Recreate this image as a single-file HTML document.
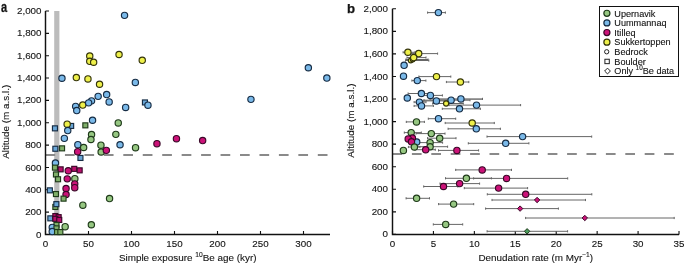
<!DOCTYPE html>
<html><head><meta charset="utf-8"><title>Figure</title><style>
html,body{margin:0;padding:0;background:#fff;width:685px;height:263px;overflow:hidden}
svg{display:block;will-change:transform}
text{font-family:"Liberation Sans",sans-serif;fill:#141414;stroke:#141414;stroke-width:0.12px}
.tk{font-size:9.8px}
</style></head><body>
<svg width="685" height="263" viewBox="0 0 685 263">
<rect x="54.2" y="11" width="5.2" height="223.5" fill="#bcbcbc"/>
<line x1="45.5" y1="155" x2="330" y2="155" stroke="#8a8a8a" stroke-width="1.8" stroke-dasharray="9.7 9.75"/>
<path d="M45.5 11V234.5H330" fill="none" stroke="#111" stroke-width="1.45"/>
<path d="M45.5 234.50h3.5M45.5 212.15h3.5M45.5 189.80h3.5M45.5 167.45h3.5M45.5 145.10h3.5M45.5 122.75h3.5M45.5 100.40h3.5M45.5 78.05h3.5M45.5 55.70h3.5M45.5 33.35h3.5M45.5 11.00h3.5M45.50 234.5v-3.5M88.50 234.5v-3.5M131.50 234.5v-3.5M174.50 234.5v-3.5M217.50 234.5v-3.5M260.50 234.5v-3.5M303.50 234.5v-3.5" fill="none" stroke="#111" stroke-width="1.1"/>
<g class="tk" text-anchor="end">
<text x="41.5" y="237.55">0</text><text x="41.5" y="215.20">200</text><text x="41.5" y="192.85">400</text><text x="41.5" y="170.50">600</text><text x="41.5" y="148.15">800</text><text x="41.5" y="125.80">1,000</text><text x="41.5" y="103.45">1,200</text><text x="41.5" y="81.10">1,400</text><text x="41.5" y="58.75">1,600</text><text x="41.5" y="36.40">1,800</text><text x="41.5" y="14.05">2,000</text>
</g>
<g class="tk" text-anchor="middle">
<text x="45.50" y="247">0</text><text x="88.50" y="247">50</text><text x="131.50" y="247">100</text><text x="174.50" y="247">150</text><text x="217.50" y="247">200</text><text x="260.50" y="247">250</text><text x="303.50" y="247">300</text>
</g>
<text x="187.7" y="260.5" text-anchor="middle" font-size="9.9">Simple exposure <tspan font-size="6.7" dy="-3.5">10</tspan><tspan dy="3.5">Be age (kyr)</tspan></text>
<text transform="translate(8.5,121.8) rotate(-90)" text-anchor="middle" font-size="9.9">Altitude (m a.s.l.)</text>
<text transform="translate(1.1,11.9) scale(0.82,1.08)" font-size="13.5" font-weight="bold" style="stroke-width:0.25px">a</text>
<g stroke="#141414" stroke-width="1.15">
<circle cx="89.75" cy="55.95" r="3.15" fill="#eef04a" stroke="#34340a"/><circle cx="119.05" cy="54.55" r="3.15" fill="#eef04a" stroke="#34340a"/><circle cx="142.25" cy="60.35" r="3.15" fill="#eef04a" stroke="#34340a"/><circle cx="89.75" cy="61.35" r="3.15" fill="#eef04a" stroke="#34340a"/><circle cx="93.65" cy="62.25" r="3.15" fill="#eef04a" stroke="#34340a"/><circle cx="76.35" cy="77.55" r="3.15" fill="#eef04a" stroke="#34340a"/><circle cx="87.95" cy="78.95" r="3.15" fill="#eef04a" stroke="#34340a"/><circle cx="99.55" cy="84.25" r="3.15" fill="#eef04a" stroke="#34340a"/><circle cx="82.75" cy="105.05" r="3.15" fill="#eef04a" stroke="#34340a"/><circle cx="124.55" cy="15.35" r="3.15" fill="#7ab9e9" stroke="#162c44"/><circle cx="61.95" cy="78.25" r="3.15" fill="#7ab9e9" stroke="#162c44"/><circle cx="98.15" cy="96.35" r="3.15" fill="#7ab9e9" stroke="#162c44"/><circle cx="106.65" cy="94.55" r="3.15" fill="#7ab9e9" stroke="#162c44"/><circle cx="91.55" cy="100.85" r="3.15" fill="#7ab9e9" stroke="#162c44"/><circle cx="88.65" cy="102.85" r="3.15" fill="#7ab9e9" stroke="#162c44"/><circle cx="109.15" cy="101.95" r="3.15" fill="#7ab9e9" stroke="#162c44"/><circle cx="75.65" cy="106.35" r="3.15" fill="#7ab9e9" stroke="#162c44"/><circle cx="76.75" cy="110.55" r="3.15" fill="#7ab9e9" stroke="#162c44"/><circle cx="125.65" cy="107.45" r="3.15" fill="#7ab9e9" stroke="#162c44"/><rect x="142.45" y="99.95" width="5.00" height="5.00" fill="#6aa6d6" stroke="#162c44"/><circle cx="147.95" cy="105.15" r="3.15" fill="#7ab9e9" stroke="#162c44"/><circle cx="135.35" cy="82.45" r="3.15" fill="#7ab9e9" stroke="#162c44"/><circle cx="250.95" cy="99.35" r="3.15" fill="#7ab9e9" stroke="#162c44"/><circle cx="308.35" cy="67.75" r="3.15" fill="#7ab9e9" stroke="#162c44"/><circle cx="326.85" cy="78.05" r="3.15" fill="#7ab9e9" stroke="#162c44"/><circle cx="92.55" cy="120.25" r="3.15" fill="#7ab9e9" stroke="#162c44"/><rect x="68.65" y="123.45" width="5.00" height="5.00" fill="#6aa6d6" stroke="#162c44"/><circle cx="67.15" cy="124.15" r="3.15" fill="#eef04a" stroke="#34340a"/><circle cx="67.75" cy="130.55" r="3.15" fill="#7ab9e9" stroke="#162c44"/><circle cx="64.35" cy="138.35" r="3.15" fill="#7ab9e9" stroke="#162c44"/><circle cx="77.85" cy="144.65" r="3.15" fill="#7ab9e9" stroke="#162c44"/><circle cx="120.05" cy="144.75" r="3.15" fill="#7ab9e9" stroke="#162c44"/><rect x="52.45" y="125.85" width="5.00" height="5.00" fill="#6aa6d6" stroke="#162c44"/><rect x="82.85" y="122.85" width="5.00" height="5.00" fill="#80b06a" stroke="#1f3a1a"/><rect x="52.85" y="146.25" width="5.00" height="5.00" fill="#6aa6d6" stroke="#162c44"/><rect x="59.55" y="145.85" width="5.00" height="5.00" fill="#80b06a" stroke="#1f3a1a"/><rect x="77.95" y="155.45" width="5.00" height="5.00" fill="#6aa6d6" stroke="#162c44"/><circle cx="118.25" cy="122.95" r="3.15" fill="#96c782" stroke="#1f3a1a"/><circle cx="91.55" cy="134.45" r="3.15" fill="#96c782" stroke="#1f3a1a"/><circle cx="115.85" cy="134.35" r="3.15" fill="#96c782" stroke="#1f3a1a"/><circle cx="90.95" cy="139.45" r="3.15" fill="#96c782" stroke="#1f3a1a"/><circle cx="100.95" cy="145.15" r="3.15" fill="#96c782" stroke="#1f3a1a"/><circle cx="83.65" cy="147.45" r="3.15" fill="#96c782" stroke="#1f3a1a"/><circle cx="101.15" cy="151.95" r="3.15" fill="#96c782" stroke="#1f3a1a"/><circle cx="135.55" cy="147.65" r="3.15" fill="#96c782" stroke="#1f3a1a"/><circle cx="77.65" cy="151.65" r="3.15" fill="#cc1278" stroke="#3a0828"/><circle cx="106.35" cy="150.35" r="3.15" fill="#cc1278" stroke="#3a0828"/><circle cx="156.95" cy="143.65" r="3.15" fill="#cc1278" stroke="#3a0828"/><circle cx="176.45" cy="138.65" r="3.15" fill="#cc1278" stroke="#3a0828"/><circle cx="202.65" cy="140.55" r="3.15" fill="#cc1278" stroke="#3a0828"/><circle cx="55.45" cy="163.05" r="3.15" fill="#7ab9e9" stroke="#162c44"/><rect x="52.45" y="165.15" width="5.00" height="5.00" fill="#80b06a" stroke="#1f3a1a"/><rect x="58.15" y="166.85" width="5.00" height="5.00" fill="#b8106c" stroke="#3a0828"/><circle cx="68.25" cy="170.75" r="3.15" fill="#cc1278" stroke="#3a0828"/><rect x="71.75" y="166.35" width="5.00" height="5.00" fill="#b8106c" stroke="#3a0828"/><rect x="77.15" y="167.85" width="5.00" height="5.00" fill="#b8106c" stroke="#3a0828"/><rect x="53.45" y="171.95" width="5.00" height="5.00" fill="#80b06a" stroke="#1f3a1a"/><rect x="55.55" y="176.75" width="5.00" height="5.00" fill="#80b06a" stroke="#1f3a1a"/><circle cx="67.25" cy="178.85" r="3.15" fill="#cc1278" stroke="#3a0828"/><circle cx="74.85" cy="178.65" r="3.15" fill="#96c782" stroke="#1f3a1a"/><circle cx="74.75" cy="183.85" r="3.15" fill="#cc1278" stroke="#3a0828"/><circle cx="74.75" cy="187.65" r="3.15" fill="#cc1278" stroke="#3a0828"/><circle cx="66.05" cy="188.55" r="3.15" fill="#cc1278" stroke="#3a0828"/><circle cx="66.05" cy="194.45" r="3.15" fill="#cc1278" stroke="#3a0828"/><rect x="47.35" y="187.85" width="5.00" height="5.00" fill="#6aa6d6" stroke="#162c44"/><rect x="53.45" y="191.55" width="5.00" height="5.00" fill="#80b06a" stroke="#1f3a1a"/><rect x="61.05" y="196.15" width="5.00" height="5.00" fill="#80b06a" stroke="#1f3a1a"/><circle cx="109.55" cy="198.55" r="3.15" fill="#96c782" stroke="#1f3a1a"/><rect x="52.85" y="204.45" width="5.00" height="5.00" fill="#80b06a" stroke="#1f3a1a"/><rect x="53.85" y="201.65" width="5.00" height="5.00" fill="#6aa6d6" stroke="#162c44"/><circle cx="82.85" cy="205.15" r="3.15" fill="#96c782" stroke="#1f3a1a"/><rect x="47.85" y="215.85" width="5.00" height="5.00" fill="#6aa6d6" stroke="#162c44"/><rect x="52.85" y="213.55" width="5.00" height="5.00" fill="#b8106c" stroke="#3a0828"/><rect x="56.15" y="214.65" width="5.00" height="5.00" fill="#b8106c" stroke="#3a0828"/><rect x="52.85" y="216.35" width="5.00" height="5.00" fill="#b8106c" stroke="#3a0828"/><rect x="56.75" y="217.45" width="5.00" height="5.00" fill="#b8106c" stroke="#3a0828"/><rect x="53.95" y="222.35" width="5.00" height="5.00" fill="#80b06a" stroke="#1f3a1a"/><circle cx="91.35" cy="224.75" r="3.15" fill="#96c782" stroke="#1f3a1a"/><circle cx="52.25" cy="227.35" r="3.15" fill="#7ab9e9" stroke="#162c44"/><rect x="53.95" y="225.85" width="5.00" height="5.00" fill="#80b06a" stroke="#1f3a1a"/><circle cx="65.15" cy="226.65" r="3.15" fill="#96c782" stroke="#1f3a1a"/><circle cx="52.25" cy="231.55" r="3.15" fill="#7ab9e9" stroke="#162c44"/><rect x="54.55" y="229.55" width="5.00" height="5.00" fill="#80b06a" stroke="#1f3a1a"/><rect x="57.85" y="229.55" width="5.00" height="5.00" fill="#80b06a" stroke="#1f3a1a"/>
</g>
<line x1="392.5" y1="154" x2="680" y2="154" stroke="#8a8a8a" stroke-width="1.8" stroke-dasharray="9.7 9.7"/>
<path d="M392.5 8.8V234.4H679.1" fill="none" stroke="#111" stroke-width="1.45"/>
<path d="M392.5 234.40h3.5M392.5 211.84h3.5M392.5 189.28h3.5M392.5 166.72h3.5M392.5 144.16h3.5M392.5 121.60h3.5M392.5 99.04h3.5M392.5 76.48h3.5M392.5 53.92h3.5M392.5 31.36h3.5M392.5 8.80h3.5M392.50 234.4v-3.5M433.43 234.4v-3.5M474.36 234.4v-3.5M515.29 234.4v-3.5M556.22 234.4v-3.5M597.15 234.4v-3.5M638.08 234.4v-3.5M679.01 234.4v-3.5" fill="none" stroke="#111" stroke-width="1.1"/>
<g class="tk" text-anchor="end">
<text x="388" y="237.45">0</text><text x="388" y="214.89">200</text><text x="388" y="192.33">400</text><text x="388" y="169.77">600</text><text x="388" y="147.21">800</text><text x="388" y="124.65">1,000</text><text x="388" y="102.09">1,200</text><text x="388" y="79.53">1,400</text><text x="388" y="56.97">1,600</text><text x="388" y="34.41">1,800</text><text x="388" y="11.85">2,000</text>
</g>
<g class="tk" text-anchor="middle">
<text x="392.50" y="247">0</text><text x="433.43" y="247">5</text><text x="474.36" y="247">10</text><text x="515.29" y="247">15</text><text x="556.22" y="247">20</text><text x="597.15" y="247">25</text><text x="638.08" y="247">30</text><text x="679.01" y="247">35</text>
</g>
<text x="535.8" y="260.5" text-anchor="middle" font-size="9.9">Denudation rate (m Myr<tspan font-size="6.7" dy="-3.5">−1</tspan><tspan dy="3.5">)</tspan></text>
<text transform="translate(354.4,120.6) rotate(-90)" text-anchor="middle" font-size="9.9">Altitude (m a.s.l.)</text>
<text x="347.1" y="13.4" font-size="13.2" font-weight="bold" style="stroke-width:0.25px">b</text>
<path d="M427.6 12.6H445.4M427.6 11.50v2.2M445.4 11.50v2.2M405.5 60.5H428.8M405.5 59.40v2.2M428.8 59.40v2.2M406.0 59.5H428.0M406.0 58.40v2.2M428.0 58.40v2.2M403.1 52.3H415.0M403.1 51.20v2.2M415.0 51.20v2.2M410.0 53.6H437.6M410.0 52.50v2.2M437.6 52.50v2.2M407.0 57.6H426.0M407.0 56.50v2.2M426.0 56.50v2.2M418.9 76.6H450.8M418.9 75.50v2.2M450.8 75.50v2.2M411.9 80.6H425.9M411.9 79.50v2.2M425.9 79.50v2.2M446.4 82.0H468.8M446.4 80.90v2.2M468.8 80.90v2.2M408.1 93.5H430.0M408.1 92.40v2.2M430.0 92.40v2.2M420.0 95.4H442.4M420.0 94.30v2.2M442.4 94.30v2.2M430.0 98.9H482.5M430.0 97.80v2.2M482.5 97.80v2.2M424.0 100.2H470.0M424.0 99.10v2.2M470.0 99.10v2.2M423.7 100.9H452.0M423.7 99.80v2.2M452.0 99.80v2.2M414.1 102.1H426.0M414.1 101.00v2.2M426.0 101.00v2.2M432.6 103.5H463.3M432.6 102.40v2.2M463.3 102.40v2.2M449.0 105.1H520.6M449.0 104.00v2.2M520.6 104.00v2.2M414.1 105.9H433.4M414.1 104.80v2.2M433.4 104.80v2.2M442.3 108.8H480.4M442.3 107.70v2.2M480.4 107.70v2.2M428.3 118.7H455.7M428.3 117.60v2.2M455.7 117.60v2.2M406.3 121.9H424.4M406.3 120.80v2.2M424.4 120.80v2.2M445.2 123.0H494.3M445.2 121.90v2.2M494.3 121.90v2.2M448.1 128.8H500.4M448.1 127.70v2.2M500.4 127.70v2.2M404.3 132.6H421.3M404.3 131.50v2.2M421.3 131.50v2.2M416.0 133.6H445.0M416.0 132.50v2.2M445.0 132.50v2.2M487.0 136.6H591.7M487.0 135.50v2.2M591.7 135.50v2.2M427.5 138.2H456.0M427.5 137.10v2.2M456.0 137.10v2.2M468.3 143.3H528.9M468.3 142.20v2.2M528.9 142.20v2.2M418.4 142.6H442.6M418.4 141.50v2.2M442.6 141.50v2.2M408.4 147.0H420.0M408.4 145.90v2.2M420.0 145.90v2.2M415.0 146.7H447.6M415.0 145.60v2.2M447.6 145.60v2.2M415.0 149.7H435.3M415.0 148.60v2.2M435.3 148.60v2.2M438.5 150.4H478.6M438.5 149.30v2.2M478.6 149.30v2.2M455.7 169.9H511.5M455.7 168.80v2.2M511.5 168.80v2.2M445.5 178.3H491.4M445.5 177.20v2.2M491.4 177.20v2.2M473.6 178.4H567.7M473.6 177.30v2.2M567.7 177.30v2.2M440.0 183.6H479.6M440.0 182.50v2.2M479.6 182.50v2.2M423.7 186.5H457.8M423.7 185.40v2.2M457.8 185.40v2.2M464.3 188.1H527.6M464.3 187.00v2.2M527.6 187.00v2.2M487.3 194.3H591.8M487.3 193.20v2.2M591.8 193.20v2.2M492.0 200.0H585.5M492.0 198.90v2.2M585.5 198.90v2.2M406.1 198.3H429.5M406.1 197.20v2.2M429.5 197.20v2.2M438.6 204.1H473.7M438.6 203.00v2.2M473.7 203.00v2.2M485.6 208.6H558.4M485.6 207.50v2.2M558.4 207.50v2.2M525.6 218.0H674.2M525.6 216.90v2.2M674.2 216.90v2.2M433.3 224.4H462.7M433.3 223.30v2.2M462.7 223.30v2.2M487.1 231.3H567.6M487.1 230.20v2.2M567.6 230.20v2.2" fill="none" stroke="#666" stroke-width="1"/>
<path d="M440 99.5H482" fill="none" stroke="#777" stroke-width="0.8"/>
<g stroke="#141414" stroke-width="1.15">
<circle cx="438.4" cy="12.6" r="3.15" fill="#7ab9e9" stroke="#162c44"/><circle cx="410.7" cy="60.5" r="2.36" fill="#eef04a" stroke="#34340a"/><circle cx="412.7" cy="59.5" r="2.36" fill="#eef04a" stroke="#34340a"/><circle cx="407.9" cy="52.3" r="3.15" fill="#eef04a" stroke="#34340a"/><circle cx="418.7" cy="53.6" r="3.15" fill="#eef04a" stroke="#34340a"/><circle cx="413.7" cy="57.6" r="3.15" fill="#eef04a" stroke="#34340a"/><circle cx="404.1" cy="65.3" r="3.15" fill="#7ab9e9" stroke="#162c44"/><circle cx="403.5" cy="76.2" r="3.15" fill="#7ab9e9" stroke="#162c44"/><circle cx="436.5" cy="76.6" r="3.15" fill="#eef04a" stroke="#34340a"/><circle cx="417.3" cy="80.6" r="3.15" fill="#7ab9e9" stroke="#162c44"/><circle cx="460.4" cy="82.0" r="3.15" fill="#eef04a" stroke="#34340a"/><circle cx="421.4" cy="93.5" r="3.15" fill="#7ab9e9" stroke="#162c44"/><circle cx="430.4" cy="95.4" r="3.15" fill="#7ab9e9" stroke="#162c44"/><circle cx="407.3" cy="98.0" r="3.15" fill="#7ab9e9" stroke="#162c44"/><circle cx="460.9" cy="98.9" r="3.15" fill="#7ab9e9" stroke="#162c44"/><circle cx="451.1" cy="100.2" r="3.15" fill="#7ab9e9" stroke="#162c44"/><circle cx="436.4" cy="100.9" r="3.15" fill="#7ab9e9" stroke="#162c44"/><circle cx="419.4" cy="102.1" r="3.15" fill="#7ab9e9" stroke="#162c44"/><circle cx="446.1" cy="103.5" r="2.58" fill="#eef04a" stroke="#34340a"/><circle cx="476.5" cy="105.1" r="3.15" fill="#7ab9e9" stroke="#162c44"/><circle cx="421.5" cy="105.9" r="3.15" fill="#7ab9e9" stroke="#162c44"/><circle cx="459.5" cy="108.8" r="3.15" fill="#7ab9e9" stroke="#162c44"/><circle cx="438.5" cy="118.7" r="3.15" fill="#7ab9e9" stroke="#162c44"/><circle cx="416.5" cy="121.9" r="3.15" fill="#96c782" stroke="#1f3a1a"/><circle cx="472.2" cy="123.0" r="3.15" fill="#eef04a" stroke="#34340a"/><circle cx="476.3" cy="128.8" r="3.15" fill="#7ab9e9" stroke="#162c44"/><circle cx="411.2" cy="132.6" r="3.15" fill="#96c782" stroke="#1f3a1a"/><circle cx="431.3" cy="133.6" r="3.15" fill="#96c782" stroke="#1f3a1a"/><circle cx="522.6" cy="136.6" r="3.15" fill="#7ab9e9" stroke="#162c44"/><circle cx="439.7" cy="138.2" r="3.15" fill="#96c782" stroke="#1f3a1a"/><circle cx="416.7" cy="142.0" r="3.15" fill="#7ab9e9" stroke="#162c44"/><circle cx="505.7" cy="143.3" r="3.15" fill="#7ab9e9" stroke="#162c44"/><circle cx="430.1" cy="142.6" r="3.15" fill="#96c782" stroke="#1f3a1a"/><circle cx="412.4" cy="138.0" r="3.15" fill="#cc1278" stroke="#3a0828"/><circle cx="408.2" cy="138.9" r="3.15" fill="#cc1278" stroke="#3a0828"/><circle cx="411.5" cy="141.8" r="3.15" fill="#cc1278" stroke="#3a0828"/><circle cx="414.4" cy="147.0" r="3.15" fill="#96c782" stroke="#1f3a1a"/><circle cx="430.1" cy="146.7" r="3.15" fill="#96c782" stroke="#1f3a1a"/><circle cx="425.7" cy="149.7" r="3.15" fill="#cc1278" stroke="#3a0828"/><circle cx="456.9" cy="150.4" r="3.15" fill="#cc1278" stroke="#3a0828"/><circle cx="403.4" cy="150.4" r="3.15" fill="#96c782" stroke="#1f3a1a"/><circle cx="482.2" cy="169.9" r="3.15" fill="#cc1278" stroke="#3a0828"/><circle cx="466.4" cy="178.3" r="3.15" fill="#96c782" stroke="#1f3a1a"/><circle cx="506.6" cy="178.4" r="3.15" fill="#cc1278" stroke="#3a0828"/><circle cx="459.6" cy="183.6" r="3.15" fill="#cc1278" stroke="#3a0828"/><circle cx="443.5" cy="186.5" r="3.15" fill="#cc1278" stroke="#3a0828"/><circle cx="498.6" cy="188.1" r="3.15" fill="#cc1278" stroke="#3a0828"/><circle cx="525.7" cy="194.3" r="3.15" fill="#cc1278" stroke="#3a0828"/><path d="M537.1 197.30L539.80 200.0L537.1 202.70L534.40 200.0Z" fill="#cc1278" stroke="#3a0828" stroke-width="1"/><circle cx="416.6" cy="198.3" r="3.15" fill="#96c782" stroke="#1f3a1a"/><circle cx="453.6" cy="204.1" r="3.15" fill="#96c782" stroke="#1f3a1a"/><path d="M520.1 205.90L522.80 208.6L520.1 211.30L517.40 208.6Z" fill="#cc1278" stroke="#3a0828" stroke-width="1"/><path d="M584.8 215.30L587.50 218.0L584.8 220.70L582.10 218.0Z" fill="#cc1278" stroke="#3a0828" stroke-width="1"/><circle cx="445.7" cy="224.4" r="3.15" fill="#96c782" stroke="#1f3a1a"/><path d="M527.1 228.60L529.80 231.3L527.1 234.00L524.40 231.3Z" fill="#4a9a5c" stroke="#1f3a1a" stroke-width="1"/>
</g>
<rect x="599.5" y="6.5" width="79" height="70" fill="#fff" stroke="#111" stroke-width="1"/>
<circle cx="606.9" cy="13.30" r="3.05" fill="#96c782" stroke="#1f3a1a" stroke-width="1.2"/><text x="614.3" y="16.60" font-size="9.15">Upernavik</text>
<circle cx="606.9" cy="22.92" r="3.05" fill="#7ab9e9" stroke="#162c44" stroke-width="1.2"/><text x="614.3" y="26.22" font-size="9.15">Uummannaq</text>
<circle cx="606.9" cy="32.54" r="3.05" fill="#cc1278" stroke="#3a0828" stroke-width="1.2"/><text x="614.3" y="35.84" font-size="9.15">Itilleq</text>
<circle cx="606.9" cy="42.16" r="3.05" fill="#eef04a" stroke="#34340a" stroke-width="1.2"/><text x="614.3" y="45.46" font-size="9.15">Sukkertoppen</text>
<circle cx="606.7" cy="51.78" r="2.15" fill="none" stroke="#222" stroke-width="1"/><text x="614.3" y="55.08" font-size="9.15">Bedrock</text>
<rect x="604.9" y="59.25" width="4.4" height="4.4" fill="none" stroke="#222" stroke-width="1"/><text x="614.3" y="64.70" font-size="9.15">Boulder</text>
<path d="M607.5 68.12L610.4 71.02L607.5 73.92L604.6 71.02Z" fill="none" stroke="#222" stroke-width="1"/><text x="614.3" y="74.32" font-size="9.15">Only <tspan font-size="6.4" dy="-4.1">10</tspan><tspan dy="4.1">Be data</tspan></text>
</svg>
</body></html>
